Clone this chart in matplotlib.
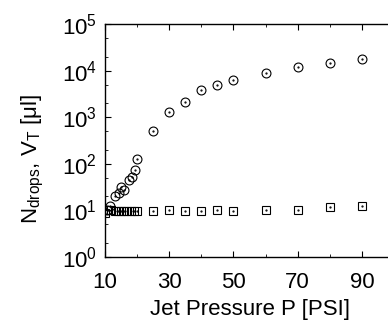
import numpy as np
import matplotlib
matplotlib.use("Agg")
import matplotlib.pyplot as plt
from matplotlib.ticker import LogLocator, MultipleLocator, NullFormatter

plt.rcParams["font.family"] = ["Liberation Sans", "DejaVu Sans"]
plt.rcParams["mathtext.fontset"] = "custom"
plt.rcParams["mathtext.rm"] = "Liberation Sans"
plt.rcParams["mathtext.it"] = "Liberation Sans:italic"

# number of drops (circles)
p_drops = [10.5, 11.5, 13, 14.4, 15, 16, 17.5, 18.4, 19.2, 20, 25, 30, 35, 40, 45, 50, 60, 70, 80, 90]
n_drops = [10, 12.2, 20, 24, 32, 27, 45, 51, 72, 126, 510, 1280, 2130, 3900, 4800, 6200, 8900, 12200, 14800, 17500]

# total volume in microlitres (squares)
p_vol = [10, 11, 12, 13, 14, 15, 16, 17, 18, 19, 20, 25, 30, 35, 40, 45, 50, 60, 70, 80, 90]
v_tot = [8.8, 10, 10, 9.9, 9.9, 9.9, 9.8, 9.8, 9.8, 9.8, 9.8, 9.8, 10.1, 9.7, 9.8, 10.2, 9.9, 10, 10, 11.6, 12.2]

fig = plt.figure(figsize=(3.88, 3.27), dpi=100)
ax = fig.add_axes([0.2706, 0.214, 0.745, 0.7125])

ax.plot(p_vol, v_tot, ls="none", marker="s", ms=5.2, mfc="none", mec="black", mew=0.8)
ax.plot(p_vol, v_tot, ls="none", marker=".", ms=1.2, color="black")
ax.plot(p_drops, n_drops, ls="none", marker="o", ms=6.4, mfc="none", mec="black", mew=0.8)
ax.plot(p_drops, n_drops, ls="none", marker=".", ms=1.2, color="black")

ax.set_yscale("log")
ax.set_xlim(10, 100)
ax.set_ylim(1, 1e5)
ax.set_xticks([10, 30, 50, 70, 90])
ax.xaxis.set_minor_locator(MultipleLocator(10))
ax.yaxis.set_major_locator(LogLocator(base=10, numticks=10))
ax.yaxis.set_minor_locator(LogLocator(base=10, subs=[2, 5], numticks=10))
ax.yaxis.set_minor_formatter(NullFormatter())

ax.tick_params(which="both", direction="in", top=True, right=True, labelsize=16)
ax.tick_params(which="major", length=4, width=0.8)
ax.tick_params(which="minor", length=2.5, width=0.6)
ax.tick_params(axis="x", pad=11)
ax.tick_params(axis="y", pad=6)

for s in ax.spines.values():
    s.set_linewidth(1.0)

ax.set_xlabel("Jet Pressure P [PSI]", fontsize=16, labelpad=4)
ax.set_ylabel(r"N$_{\mathrm{drops}}$, V$_{\mathrm{T}}$ [μl]", fontsize=16)
ax.yaxis.set_label_coords(-0.205, 0.42)

fig.savefig("out.png", dpi=100)
